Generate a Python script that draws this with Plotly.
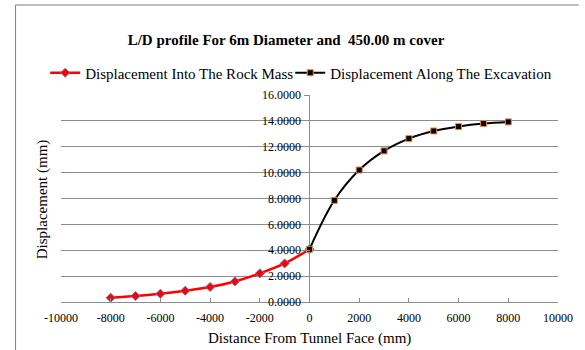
import plotly.graph_objects as go

rock_x = [-8000, -7000, -6000, -5000, -4000, -3000, -2000, -1000, 0]
rock_y = [0.33, 0.46, 0.64, 0.87, 1.16, 1.59, 2.21, 2.98, 4.08]
exc_x = [0, 1000, 2000, 3000, 4000, 5000, 6000, 7000, 8000]
exc_y = [4.08, 7.86, 10.20, 11.68, 12.63, 13.22, 13.56, 13.79, 13.92]
x_ticks = [-10000, -8000, -6000, -4000, -2000, 0, 2000, 4000, 6000, 8000, 10000]
y_ticks = [0, 2, 4, 6, 8, 10, 12, 14, 16]

FONT = "Liberation Serif"
GRID = "#8c8c8c"

fig = go.Figure()
fig.add_trace(go.Scatter(
    x=rock_x, y=rock_y, mode="lines+markers",
    name="Displacement Into The Rock Mass", legend="legend",
    line=dict(color="#ff0000", width=2.5, shape="spline"),
    marker=dict(symbol="diamond", size=7, color="#ff0000",
                line=dict(color="#6a78c8", width=1)),
))
fig.add_trace(go.Scatter(
    x=exc_x, y=exc_y, mode="lines+markers",
    name="Displacement Along The Excavation", legend="legend2",
    line=dict(color="#000000", width=2, shape="spline"),
    marker=dict(symbol="square", size=6, color="#000000",
                line=dict(color="#e8894a", width=1)),
))

W, H = 585, 350
L, R, T, B = 61, 21, 95, 48
pw, ph = W - L - R, H - T - B


def px_x(p):
    return (p - L) / pw


def px_y(p):
    return (H - B - p) / ph


legend_common = dict(orientation="h", xanchor="left", yanchor="middle",
                     font=dict(size=15, family=FONT), itemwidth=30,
                     bgcolor="rgba(0,0,0,0)", borderwidth=0)

fig.update_layout(
    width=W, height=H,
    margin=dict(l=L, r=R, t=T, b=B),
    paper_bgcolor="white", plot_bgcolor="white",
    font=dict(family=FONT, color="#000000"),
    title=dict(text="<b>L/D profile For 6m Diameter and  450.00 m cover</b>",
               x=286 / W, xanchor="center", y=1 - 40 / H, yanchor="middle",
               font=dict(size=15, family=FONT)),
    showlegend=True,
    legend=dict(x=px_x(45), y=px_y(73), **legend_common),
    legend2=dict(x=px_x(293), y=px_y(73), **legend_common),
    xaxis=dict(range=[-10000, 10000], tickvals=x_ticks,
               ticktext=[str(v) for v in x_ticks],
               showgrid=False, zeroline=True, zerolinecolor=GRID, zerolinewidth=1,
               showline=True, linecolor=GRID, linewidth=1,
               ticks="inside", ticklen=4, tickcolor=GRID,
               ticklabelstandoff=5,
               tickfont=dict(size=12, family=FONT)),
    yaxis=dict(range=[0, 16], tickvals=y_ticks,
               ticktext=[f"{v:.4f}" for v in y_ticks],
               anchor="free", position=0.5,
               showgrid=True, gridcolor=GRID, gridwidth=1, zeroline=False,
               showline=False, ticks="outside", ticklen=6, tickcolor=GRID,
               tickfont=dict(size=12, family=FONT)),
    annotations=[
        dict(text="Distance From Tunnel Face (mm)", xref="paper", yref="paper",
             x=px_x(312), y=px_y(338), xanchor="center", yanchor="middle",
             showarrow=False, font=dict(size=15, family=FONT)),
        dict(text="Displacement (mm)", xref="paper", yref="paper",
             x=px_x(42), y=px_y(199), xanchor="center", yanchor="middle",
             textangle=-90, showarrow=False, font=dict(size=15, family=FONT)),
    ],
    shapes=[
        dict(type="line", xref="paper", yref="paper",
             x0=px_x(15), x1=px_x(585), y0=px_y(5), y1=px_y(5),
             line=dict(color="#808080", width=1)),
        dict(type="line", xref="paper", yref="paper",
             x0=px_x(15), x1=px_x(15), y0=px_y(5), y1=px_y(350),
             line=dict(color="#808080", width=1)),
    ],
)

fig.write_html("out.html")
